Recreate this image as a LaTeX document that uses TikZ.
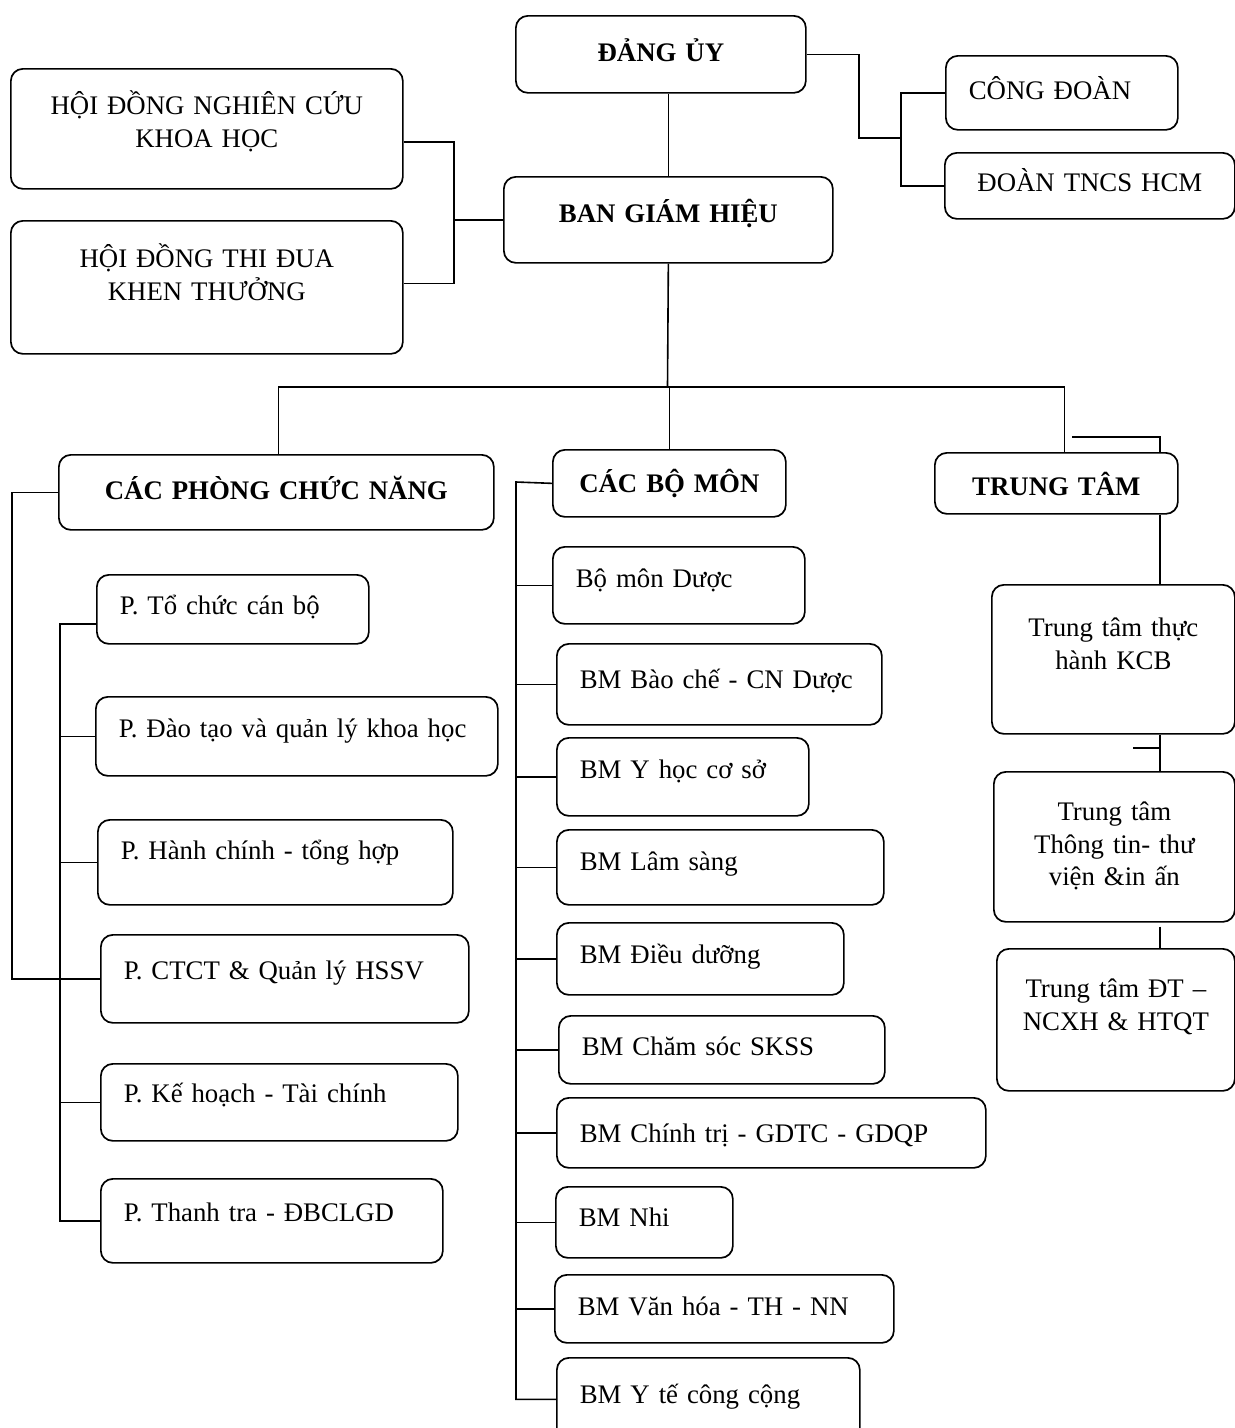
\documentclass[tikz,border=0pt]{standalone}
\usepackage{fontspec}
\setmainfont{Liberation Serif}
\usetikzlibrary{calc}

\begin{document}
\begin{tikzpicture}[x=1pt,y=-1pt,
  unit/.style={draw, line width=1.7pt, rounded corners=12pt, anchor=north west, inner ysep=0pt, font=\fontsize{26.8}{32.5}\selectfont},
  lft/.style={unit, inner xsep=23pt, align=left},
  ctr/.style={unit, inner xsep=6pt, align=center},
  head/.style={ctr, font=\fontsize{26.8}{32.5}\selectfont\bfseries},
  sz/.style n args={3}{text width=#1pt, text height=#2pt, text depth=#3pt},
  link/.style={line width=1.6pt}]
\useasboundingbox (0,0) rectangle (1235,1428);

\node[head, sz={278}{46}{31}] (dang) at (515,15) {ĐẢNG ỦY};
\node[head, sz={317}{46}{40}] (bgh) at (503,176) {BAN GIÁM HIỆU};
\node[ctr, sz={380}{46}{74}] (hnc) at (10,68) {HỘI ĐỒNG NGHIÊN CỨU\\KHOA HỌC};
\node[ctr, sz={380}{47}{86}] (htd) at (10,220) {HỘI ĐỒNG THI ĐUA\\KHEN THƯỞNG};
\node[lft, sz={186}{44}{30}] (cd) at (945,55) {CÔNG ĐOÀN};
\node[ctr, sz={278}{39}{27}] (dtn) at (944,152) {ĐOÀN TNCS HCM};

\node[head, sz={423}{45}{30}] (cpcn) at (58,454) {CÁC PHÒNG CHỨC NĂNG};
\node[head, sz={221}{43}{24}] (cbm) at (552,449) {CÁC BỘ MÔN};
\node[head, sz={231}{43}{18}] (ttam) at (934,452) {TRUNG TÂM};

\node[lft, sz={226}{40}{29}] (ptc) at (96,574) {P. Tổ chức cán bộ};
\node[lft, sz={356}{41}{38}] (pdt) at (95,696) {P. Đào tạo và quản lý khoa học};
\node[lft, sz={309}{40}{45}] (phc) at (97,819) {P. Hành chính - tổng hợp};
\node[lft, sz={322}{45}{43}] (pct) at (100,934) {P. CTCT \& Quản lý HSSV};
\node[lft, sz={311}{39}{38}] (pkh) at (100,1063) {P. Kế hoạch - Tài chính};
\node[lft, sz={296}{43}{41}] (ptt) at (100,1178) {P. Thanh tra - ĐBCLGD};

\node[lft, sz={206}{41}{36}] (bmd) at (552,546) {Bộ môn Dược};
\node[lft, sz={279}{45}{36}] (bmbc) at (556,643) {BM Bào chế - CN Dược};
\node[lft, sz={206}{41}{37}] (bmyh) at (556,737) {BM Y học cơ sở};
\node[lft, sz={281}{41}{34}] (bmls) at (556,829) {BM Lâm sàng};
\node[lft, sz={241}{41}{31}] (bmdd) at (556,922) {BM Điều dưỡng};
\node[lft, sz={280}{40}{28}] (bmcs) at (558,1015) {BM Chăm sóc SKSS};
\node[lft, sz={383}{45}{25}] (bmct) at (556,1097) {BM Chính trị - GDTC - GDQP};
\node[lft, sz={131}{40}{31}] (bmn) at (555,1186) {BM Nhi};
\node[lft, sz={293}{41}{27}] (bmvh) at (554,1274) {BM Văn hóa - TH - NN};
\node[lft, sz={257}{46}{37}] (bmyt) at (556,1357) {BM Y tế công cộng};

\node[ctr, sz={231}{52}{97}] (ttth) at (991,584) {Trung tâm thực\\hành KCB};
\node[ctr, sz={229}{49}{101}] (tttv) at (993,771) {Trung tâm\\Thông tin- thư\\viện \&in ấn};
\node[ctr, sz={226}{49}{93}] (ttdt) at (996,948) {Trung tâm ĐT –\\NCXH \& HTQT};

\coordinate (dj) at (901,138);
\coordinate (bus) at (667.5,387);
\coordinate (tk) at (1072,437);
\coordinate (tc) at (1160,437);
\coordinate (tick) at (1133,748);
\coordinate (pv) at (60,624);
\coordinate (mv) at (516,482);

\draw[link] (dang.south -| bgh.north) -- (bgh.north);
\draw[link] ([yshift=-13pt]hnc.east) -- ++(50,0) |- ([yshift=4pt]htd.east);
\draw[link] (bgh.west) -- ++(-50,0);
\draw[link] (dang.east) -- ++(52,0) |- (dj);
\draw[link] (cd.west) -| (dj) |- (dtn.west);

\draw[link] (bgh.south) -- (bus);
\draw[link] ([xshift=2pt]cpcn.north) |- (bus) -| ([xshift=8pt]ttam.north);
\draw[link] (cbm.north) -- (cbm.north |- bus);

\draw[link] (tk) -- (tc) -- (tc |- ttam.north);
\draw[link] (tc |- ttam.south) -- (tc |- ttth.north);
\draw[link] (tc |- ttth.south) -- (tc |- tttv.north);
\draw[link] (tick) -- (tick -| tc);
\draw[link] ($(tc |- tttv.south)+(0,4)$) -- (tc |- ttdt.north);

\draw[link] (cpcn.west) -- ++(-46,0) |- (pct.west);
\draw[link] (ptc.west |- pv) -- (pv) |- (ptt.west);
\foreach \n in {pdt,phc,pkh} \draw[link] (\n.west) -- (\n.west -| pv);

\draw[link] (cbm.west) -- (mv) |- (bmyt.west);
\foreach \n in {bmd,bmbc,bmyh,bmls,bmdd,bmcs,bmct,bmn,bmvh} \draw[link] (\n.west) -- (\n.west -| mv);
\end{tikzpicture}
\end{document}
